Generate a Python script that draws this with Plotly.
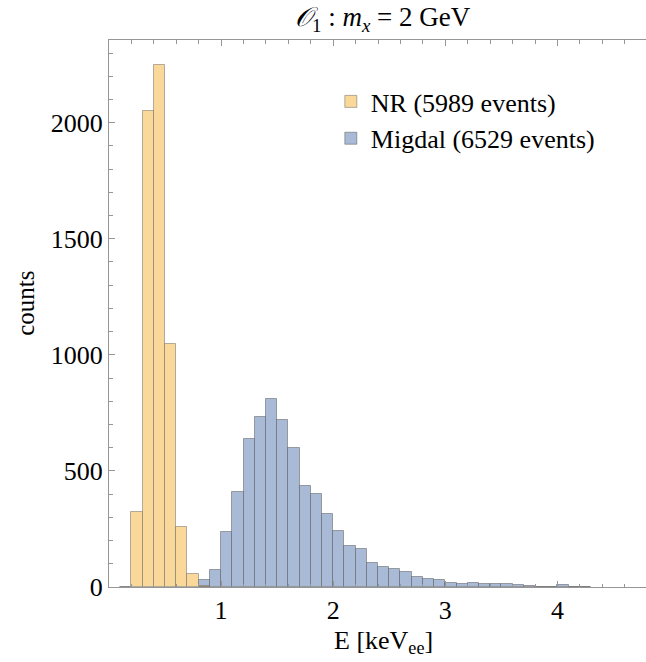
import plotly.graph_objects as go

# ---- data ----
bin_width = 0.1
nr_start = 0.1
nr_counts = [1, 324, 2050, 2248, 1045, 260, 55, 6]
mig_start = 0.8
mig_counts = [31, 73, 235, 411, 639, 734, 809, 721, 600, 435, 401, 315, 242,
              175, 162, 104, 87, 79, 63, 43, 36, 32, 17, 11, 16, 14, 11, 11,
              7, 3, 2, 1, 7, 1, 1]
nr_label = "NR (5989 events)"
mig_label = "Migdal (6529 events)"
x_tickvals = [0, 1, 2, 3, 4]
x_ticktext = ["", "1", "2", "3", "4"]
y_tickvals = [0, 500, 1000, 1500, 2000]

nr_x = [nr_start + (i + 0.5) * bin_width for i in range(len(nr_counts))]
mig_x = [mig_start + (i + 0.5) * bin_width for i in range(len(mig_counts))]

FONT = "Liberation Serif"
ORANGE = "rgb(249,212,144)"
BLUE = "rgb(169,186,214)"
EDGE = "rgba(70,70,70,0.45)"
AXC = "rgb(150,150,150)"

fig = go.Figure()
fig.add_trace(go.Bar(x=mig_x, y=mig_counts, width=bin_width, name=mig_label,
                     marker=dict(color=BLUE, line=dict(color=EDGE, width=1)),
                     legendgroup="b", legendrank=2))
fig.add_trace(go.Bar(x=nr_x, y=nr_counts, width=bin_width, name=nr_label,
                     marker=dict(color=ORANGE, line=dict(color=EDGE, width=1)),
                     opacity=0.9, legendgroup="a", legendrank=1))

W, H = 646, 662
ml, mr, mt, mb = 109.3, 0, 40, 662 - 586.7
PH = H - mt - mb
fig.update_layout(
    width=W, height=H,
    margin=dict(l=ml, r=mr, t=mt, b=mb, pad=0),
    paper_bgcolor="white", plot_bgcolor="white",
    barmode="overlay", bargap=0,
    font=dict(family=FONT, size=26, color="black"),
    showlegend=True,
    legend=dict(x=(331 - ml) / (W - ml), y=1 - (78 - mt) / PH,
                xanchor="left", yanchor="top",
                bgcolor="rgba(0,0,0,0)", font=dict(family=FONT, size=26),
                tracegroupgap=0, itemclick=False),
    xaxis=dict(range=[0, 4.79], showgrid=False, zeroline=False,
               showline=True, linecolor=AXC, linewidth=1, mirror="ticks",
               ticks="inside", ticklen=6, tickcolor=AXC, tickwidth=1,
               tickmode="array", tickvals=x_tickvals, ticktext=x_ticktext,
               minor=dict(ticks="inside", ticklen=3.5, tickcolor=AXC,
                          tickmode="linear", tick0=0, dtick=0.2, showgrid=False),
               tickfont=dict(family=FONT, size=26)),
    yaxis=dict(range=[0, 2356], showgrid=False, zeroline=False,
               showline=True, linecolor=AXC, linewidth=1,
               ticks="inside", ticklen=6, tickcolor=AXC, tickwidth=1,
               tickmode="array", tickvals=y_tickvals,
               minor=dict(ticks="inside", ticklen=3.5, tickcolor=AXC,
                          tickmode="linear", tick0=0, dtick=100, showgrid=False),
               tickfont=dict(family=FONT, size=26)),
    annotations=[
        dict(text="<i>\U0001D4AA</i><sub>1</sub> : <i>m</i><sub><i>x</i></sub> = 2 GeV",
             xref="paper", yref="paper", x=(383.5 - ml) / (W - ml),
             y=1 + (40 - 19) / PH, xanchor="center", yanchor="middle",
             showarrow=False, font=dict(family=FONT, size=27, color="black")),
        dict(text="E [keV<sub>ee</sub>]", xref="paper", yref="paper",
             x=(384 - ml) / (W - ml), y=-(642 - 586.7) / PH,
             xanchor="center", yanchor="middle", showarrow=False,
             font=dict(family=FONT, size=26)),
        dict(text="counts", xref="paper", yref="paper", textangle=-90,
             x=-(ml - 25) / (W - ml), y=(586.7 - 303) / PH,
             xanchor="center", yanchor="middle", showarrow=False,
             font=dict(family=FONT, size=25)),
    ],
)

fig.write_html("out.html")
